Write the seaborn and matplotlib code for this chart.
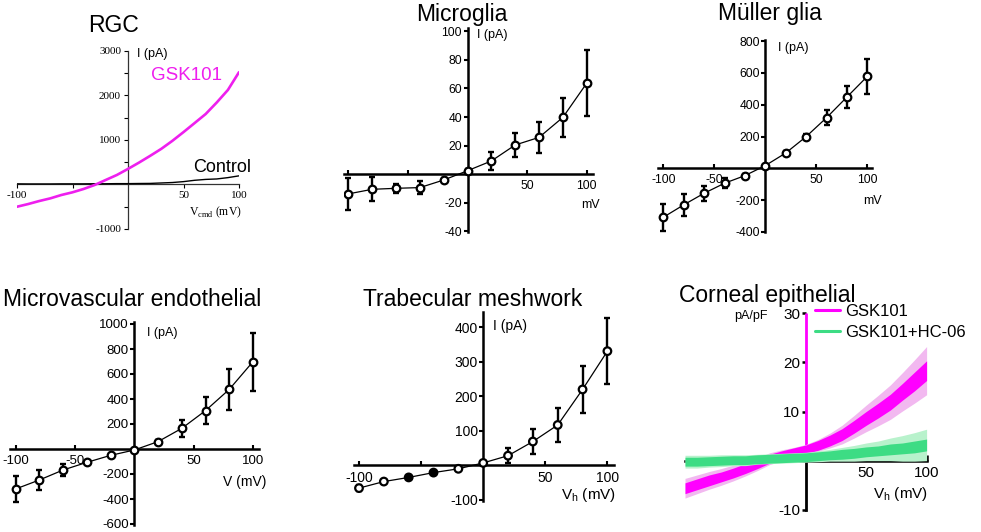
import numpy as np
import matplotlib
matplotlib.use("Agg")
import matplotlib.pyplot as plt
import seaborn as sns
from matplotlib.lines import Line2D

# Datos
volt = [-100, -80, -60, -40, -20, 0, 20, 40, 60, 80, 100]

microglia_i = [-13.7, -10.5, -9.8, -9.3, -4.0, 2.5, 9.3, 20.5, 25.8, 39.8, 63.7]
microglia_err = [11, 8.5, 3, 4.5, 1.5, 1, 6.3, 8.4, 11, 13.5, 23]

muller_i = [-308, -230, -157, -94, -46, 17, 96, 199, 318, 448, 578]
muller_err = [84, 70, 47, 30, 8, 5, 10, 14, 47, 68, 110]

endo_i = [-320, -248, -168, -107, -51, -8, 59, 165, 307, 477, 699]
endo_err = [105, 80, 50, 12, 8, 5, 15, 67, 110, 163, 233]

tm_i = [-67, -48, -36, -22, -11, 6, 27, 68, 116, 219, 330]
tm_err = [8, 5, 5, 5, 4, 6, 21, 35, 49, 67, 96]
tm_face = ["white", "white", "black", "black", "white", "white", "white", "white", "white", "white", "white"]

rgc_v = [-100, -90, -80, -70, -60, -50, -40, -30, -20, -10, 0, 10, 20, 30, 40, 50, 60, 70, 80, 90, 100]
rgc_gsk = [-504, -444, -376, -316, -240, -180, -105, -15, 98, 210, 346, 489, 640, 797, 977,
           1173, 1376, 1580, 1840, 2120, 2519]
rgc_ctrl = [10, 8, 8, 8, 10, 10, 10, 12, 12, 15, 15, 18, 20, 30, 40, 60, 90, 110, 120, 150, 190]

corn_v = rgc_v
gsk_mean = [-5.6, -4.8, -4.0, -3.3, -2.5, -1.6, -0.7, 0.4, 1.1, 1.7, 2.3, 3.1, 4.1, 5.3, 6.9,
            8.6, 10.2, 11.9, 14.0, 16.1, 18.3]
gsk_dark = [1.1, 1.1, 1.1, 1.0, 1.0, 1.0, 0.9, 0.9, 0.9, 0.9, 0.9, 1.0, 1.1, 1.2, 1.3,
            1.4, 1.5, 1.6, 1.7, 1.9, 2.0]
gsk_light = [2.0, 1.9, 1.8, 1.7, 1.6, 1.5, 1.3, 1.2, 1.1, 1.0, 1.0, 1.2, 1.5, 1.9, 2.3,
             2.7, 3.1, 3.5, 3.9, 4.4, 4.9]
hc_mean = [-0.2, -0.2, -0.1, 0.0, 0.1, 0.1, 0.3, 0.4, 0.5, 0.6, 0.7, 0.9, 1.1, 1.3, 1.5,
           1.8, 2.0, 2.3, 2.5, 2.8, 3.2]
hc_dark = [0.9, 0.9, 0.9, 0.9, 0.9, 0.9, 0.9, 0.9, 0.9, 0.9, 0.9, 0.9, 0.9, 1.0, 1.0,
           1.0, 1.0, 1.1, 1.1, 1.2, 1.2]
hc_light = [1.3, 1.3, 1.2, 1.2, 1.1, 1.1, 1.0, 1.0, 1.0, 1.0, 1.0, 1.1, 1.2, 1.4, 1.6,
            1.8, 2.0, 2.3, 2.6, 2.9, 3.2]

# Estilo
sns.set_theme(style="white")
plt.rcParams["font.family"] = ["Liberation Sans", "DejaVu Sans"]
for k in ["text.color", "axes.labelcolor", "xtick.color", "ytick.color"]:
    plt.rcParams[k] = "black"

magenta = "#FF00FF"
W, H = 981, 532
fig = plt.figure(figsize=(W / 100, H / 100), dpi=100)


def panel(x0, sx, y0, sy, xlim, ylim):
    # ejes colocados en píxeles: x0/y0 = posición del origen, sx/sy = px por unidad
    left = (x0 + xlim[0] * sx) / W
    bottom = 1 - (y0 - ylim[0] * sy) / H
    ax = fig.add_axes([left, bottom, (xlim[1] - xlim[0]) * sx / W, (ylim[1] - ylim[0]) * sy / H])
    ax.set_xlim(xlim)
    ax.set_ylim(ylim)
    ax.patch.set_visible(False)
    ax.grid(False)
    ax.spines[["top", "right"]].set_visible(False)
    for s in ["left", "bottom"]:
        ax.spines[s].set_position(("data", 0))
        ax.spines[s].set_color("black")
    return ax


def txt(x, y, s, **kw):
    kw.setdefault("va", "center")
    fig.text(x / W, 1 - y / H, s, **kw)


def iv_style(ax, xt, xl, yt, fs):
    for s in ["left", "bottom"]:
        ax.spines[s].set_linewidth(1.8)
    ax.set_xticks(xt)
    ax.set_xticklabels(xl)
    ax.set_yticks(yt)
    ax.set_yticklabels([str(v) for v in yt])
    ax.tick_params(axis="x", bottom=True, direction="in", length=3, width=1.5, pad=4, labelsize=fs)
    ax.tick_params(axis="y", left=True, direction="out", length=3, width=1.5, pad=1, labelsize=fs)


def iv_data(ax, cur, err, face="white"):
    sns.lineplot(x=volt, y=cur, ax=ax, color="black", lw=0.9, zorder=3)
    ax.errorbar(volt, cur, yerr=err, fmt="none", ecolor="black", elinewidth=1.7,
                capsize=2.2, capthick=1.7, zorder=4)
    ax.scatter(volt, cur, s=30, facecolor=face, edgecolor="black", linewidths=1.6, zorder=5)


# 1. RGC
ax1 = panel(128, 1.11, 184.3, 0.0445, (-100, 100), (-1000, 3000))
for s in ["left", "bottom"]:
    ax1.spines[s].set_linewidth(0.9)
    ax1.spines[s].set_color("#333333")
sns.lineplot(x=rgc_v, y=rgc_ctrl, ax=ax1, color="black", lw=1.0, zorder=3)
sns.lineplot(x=rgc_v, y=rgc_gsk, ax=ax1, color="#EE1FEE", lw=1.9, zorder=4)
ax1.set_xticks([-100, -50, 50, 100])
ax1.set_xticklabels(["-100", "", "50", "100"], fontfamily="Liberation Serif")
ax1.set_yticks([-1000, 1000, 2000, 3000])
ax1.set_yticklabels(["-1000", "1000", "2000", "3000"], fontfamily="Liberation Serif")
ax1.set_yticks([-500, 500, 1500, 2500], minor=True)
ax1.tick_params(axis="x", bottom=True, direction="out", length=3, width=0.8, pad=2, labelsize=8)
ax1.tick_params(axis="y", which="both", left=True, direction="out", length=3, width=0.8, pad=2, labelsize=8)
txt(88, 32, "RGC", fontsize=16.5, va="baseline")
txt(137, 54, "I (pA)", fontsize=9)
txt(151, 76, "GSK101", fontsize=13.5, color="#EE1FEE")
txt(193, 167, "Control", fontsize=13)
txt(189, 212, r"V$_{\mathregular{cmd}}$ (mV)", fontsize=8.5, fontfamily="Liberation Serif")

# 2. Microglia
ax2 = panel(467.5, 1.192, 174.3, 1.43, (-104, 105), (-40.5, 102))
iv_style(ax2, [-100, -50, 50, 100], ["", "", "50", "100"], [-40, -20, 20, 40, 60, 80, 100], 8.7)
iv_data(ax2, microglia_i, microglia_err)
txt(416, 21, "Microglia", fontsize=16.5, va="baseline")
txt(477, 35, "I (pA)", fontsize=9)
txt(581, 205, "mV", fontsize=9)

# 3. Müller glia
ax3 = panel(765.3, 1.02, 168.3, 0.159, (-105, 104.5), (-402, 805))
iv_style(ax3, [-100, -50, 50, 100], ["-100", "-50", "50", "100"], [-400, -200, 200, 400, 600, 800], 8.7)
iv_data(ax3, muller_i, muller_err)
txt(718, 20, "Müller glia", fontsize=16.5, va="baseline")
txt(778, 48, "I (pA)", fontsize=9)
txt(863, 201, "mV", fontsize=9)

# 4. Microvascular endothelial
ax4 = panel(134.3, 1.187, 449, 0.125, (-105, 105), (-605, 1017))
iv_style(ax4, [-100, -50, 50, 100], ["-100", "-50", "50", "100"],
         [-600, -400, -200, 200, 400, 600, 800, 1000], 9.5)
iv_data(ax4, endo_i, endo_err)
txt(3, 306, "Microvascular endothelial", fontsize=16.5, va="baseline")
txt(147, 333, "I (pA)", fontsize=9)
txt(223, 482, "V (mV)", fontsize=10)

# 5. Trabecular meshwork
ax5 = panel(483.2, 1.242, 465, 0.345, (-104.4, 105), (-105, 443))
iv_style(ax5, [-100, -50, 50, 100], ["-100", "", "50", "100"], [-100, 100, 200, 300, 400], 10)
iv_data(ax5, tm_i, tm_err, face=tm_face)
txt(363, 306, "Trabecular meshwork", fontsize=16.5, va="baseline")
txt(493, 326, "I (pA)", fontsize=10)
txt(561, 495, r"V$_\mathregular{h}$ (mV)", fontsize=11)

# 6. Corneal epithelial
ax6 = panel(805.8, 1.208, 460.7, 4.92, (-100, 100), (-10, 30))
ax6.spines["bottom"].set_linewidth(1.8)
ax6.spines["left"].set_linewidth(2)
ax6.spines["left"].set_bounds(-10, 0)
ax6.vlines(0, 0, ax6.get_ylim()[1], colors=magenta, lw=2, zorder=2)
ax6.fill_between(corn_v, np.subtract(gsk_mean, gsk_light), np.add(gsk_mean, gsk_light),
                 color="#F2B8F0", lw=0, zorder=3)
ax6.fill_between(corn_v, np.subtract(gsk_mean, gsk_dark), np.add(gsk_mean, gsk_dark),
                 color=magenta, lw=0, zorder=4)
ax6.fill_between(corn_v, np.subtract(hc_mean, hc_light), np.add(hc_mean, hc_light),
                 color="#B8F2CC", lw=0, zorder=5)
ax6.fill_between(corn_v, np.subtract(hc_mean, hc_dark), np.add(hc_mean, hc_dark),
                 color="#3DDC84", lw=0, zorder=6)
ax6.set_xticks([50, 100])
ax6.set_xticklabels(["50", "100"])
ax6.set_yticks([-10, 10, 20, 30])
ax6.set_yticklabels(["-10", "10", "20", "30"])
ax6.tick_params(axis="x", bottom=True, direction="in", length=4, width=1.8, pad=4, labelsize=11)
ax6.tick_params(axis="y", left=True, direction="out", length=3, width=1.8, pad=1, labelsize=11)
for t, v in zip(ax6.yaxis.get_major_ticks(), ax6.get_yticks()):
    if v > 0:
        t.tick1line.set_color(magenta)
handles = [Line2D([], [], color=magenta, lw=2.2), Line2D([], [], color="#3DDC84", lw=2.2)]
ax6.legend(handles, ["GSK101", "GSK101+HC-06"], loc="upper left", bbox_to_anchor=(815 / W, 1 - 304 / H),
           bbox_transform=fig.transFigure, frameon=False, fontsize=12, handlelength=1.5,
           handletextpad=0.3, borderpad=0, borderaxespad=0, labelspacing=0.35)
txt(679, 302, "Corneal epithelial", fontsize=16.5, va="baseline")
txt(734, 316, "pA/pF", fontsize=9)
txt(873, 494, r"V$_\mathregular{h}$ (mV)", fontsize=11)

fig.savefig("out.png", dpi=100)
